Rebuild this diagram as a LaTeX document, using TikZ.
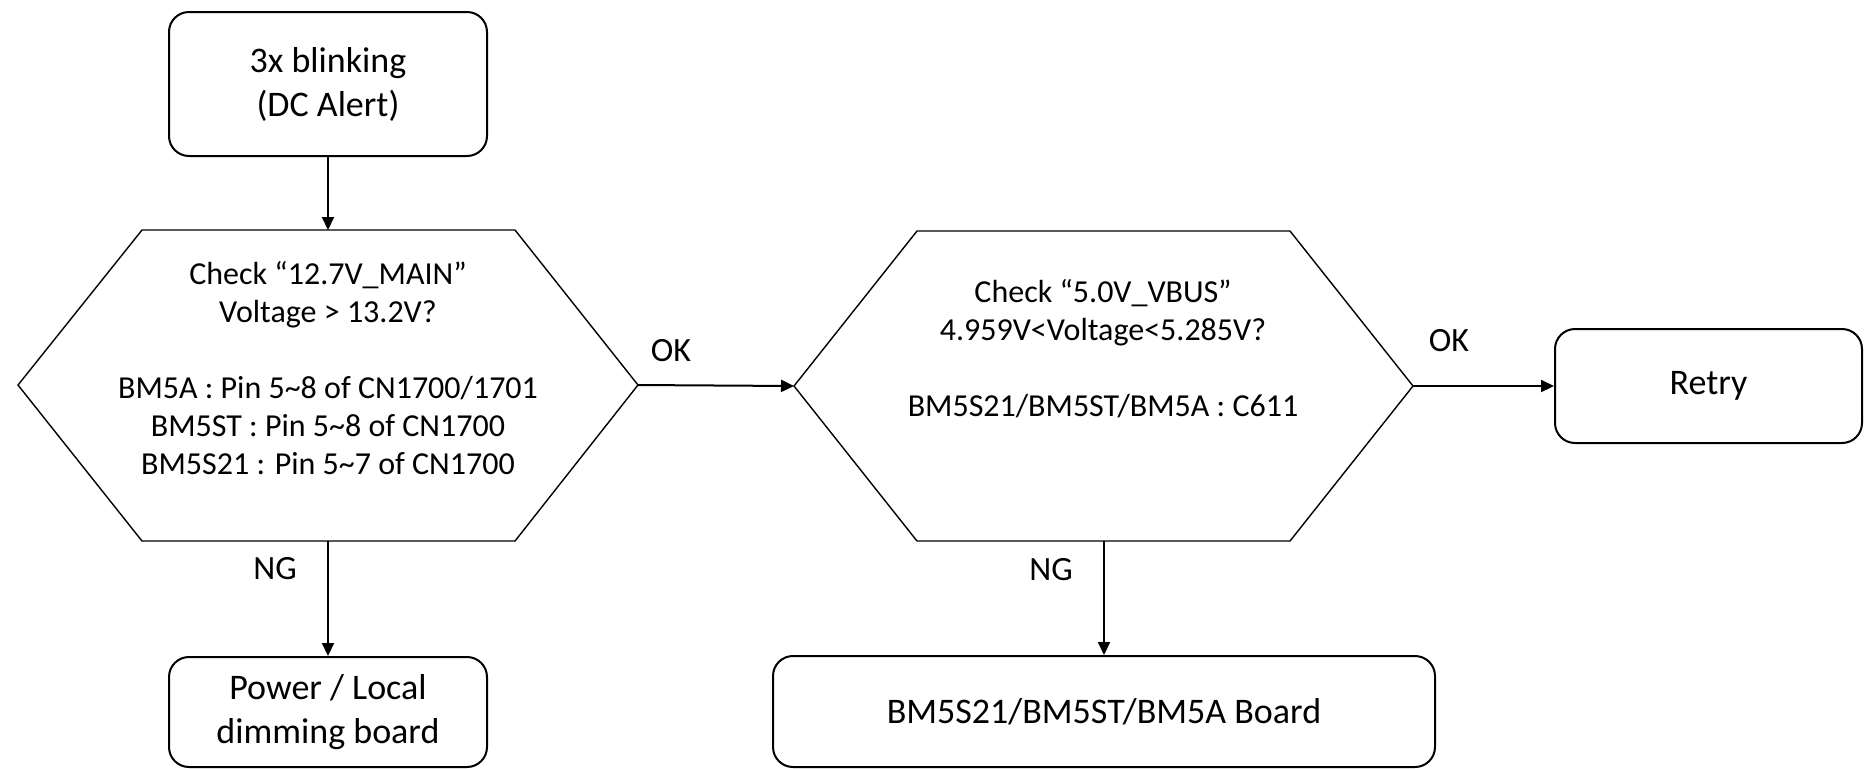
\documentclass[tikz,border=0pt]{standalone}
\usepackage{fontspec}
\setmainfont{Carlito}
\usetikzlibrary{arrows.meta}
\tikzstyle{nodeBox} = [rectangle, rounded corners=10pt, draw=black, line width=1pt, align=center, font=\fontsize{18}{22}\selectfont]
\tikzstyle{nodeHex} = [align=center, font=\fontsize{16}{19}\selectfont]
\tikzstyle{hexLine} = [draw=black, line width=0.7pt, line join=miter]
\tikzstyle{nodeTag} = [font=\fontsize{17}{20}\selectfont]
\tikzstyle{flowArrow} = [-{Triangle[length=6.5pt,width=6pt]}, line width=1pt]

\begin{document}
\begin{tikzpicture}[x=0.5pt, y=-0.5pt]
    \useasboundingbox (0,0) rectangle (1864,768);

    \node (Start) [nodeBox, minimum width=159pt, minimum height=72pt] at (328,84) {3x blinking\\(DC Alert)};

    % first check
    \coordinate (H1L) at (18,385);
    \coordinate (H1TL) at (142,230);
    \coordinate (H1T) at (328,230);
    \coordinate (H1TR) at (515,230);
    \coordinate (H1R) at (638,385);
    \coordinate (H1BR) at (515,541);
    \coordinate (H1B) at (328,541);
    \coordinate (H1BL) at (142,541);
    \draw [hexLine] (H1L) -- (H1TL) -- (H1TR) -- (H1R) -- (H1BR) -- (H1BL) -- cycle;
    \node (Check1) [nodeHex] at (328,368) {Check “12.7V\_MAIN”\\Voltage > 13.2V?\\[19pt]BM5A : Pin 5\textasciitilde8 of CN1700/1701\\BM5ST : Pin 5\textasciitilde8 of CN1700\\BM5S21 : Pin 5\textasciitilde7 of CN1700};

    % second check
    \coordinate (H2L) at (794,386);
    \coordinate (H2TL) at (917,231);
    \coordinate (H2TR) at (1290,231);
    \coordinate (H2R) at (1413,386);
    \coordinate (H2BR) at (1290,541);
    \coordinate (H2B) at (1104,541);
    \coordinate (H2BL) at (917,541);
    \draw [hexLine] (H2L) -- (H2TL) -- (H2TR) -- (H2R) -- (H2BR) -- (H2BL) -- cycle;
    \node (Check2) [nodeHex] at (1103,349) {Check “5.0V\_VBUS”\\4.959V<Voltage<5.285V?\\[19pt]BM5S21/BM5ST/BM5A : C611};

    \node (Power) [nodeBox, minimum width=159pt, minimum height=55pt] at (328,712) {Power / Local\\dimming board};
    \node (Retry) [nodeBox, minimum width=153.5pt, minimum height=57pt] at (1708.5,386) {Retry};
    \node (Board) [nodeBox, minimum width=331pt, minimum height=55.5pt] at (1104,711.5) {BM5S21/BM5ST/BM5A Board};

    \draw [flowArrow] (Start.south) -- (H1T);
    \draw [flowArrow] (H1B) -- (Power.north);
    \draw [flowArrow] (H1R) -- (H2L);
    \draw [flowArrow] (H2R) -- (Retry.west);
    \draw [flowArrow] (H2B) -- (Board.north);

    \node (Ok1) [nodeTag] at (671,351) {OK};
    \node (Ok2) [nodeTag] at (1449,341) {OK};
    \node (Ng1) [nodeTag] at (275,569) {NG};
    \node (Ng2) [nodeTag] at (1051,570) {NG};
\end{tikzpicture}
\end{document}
